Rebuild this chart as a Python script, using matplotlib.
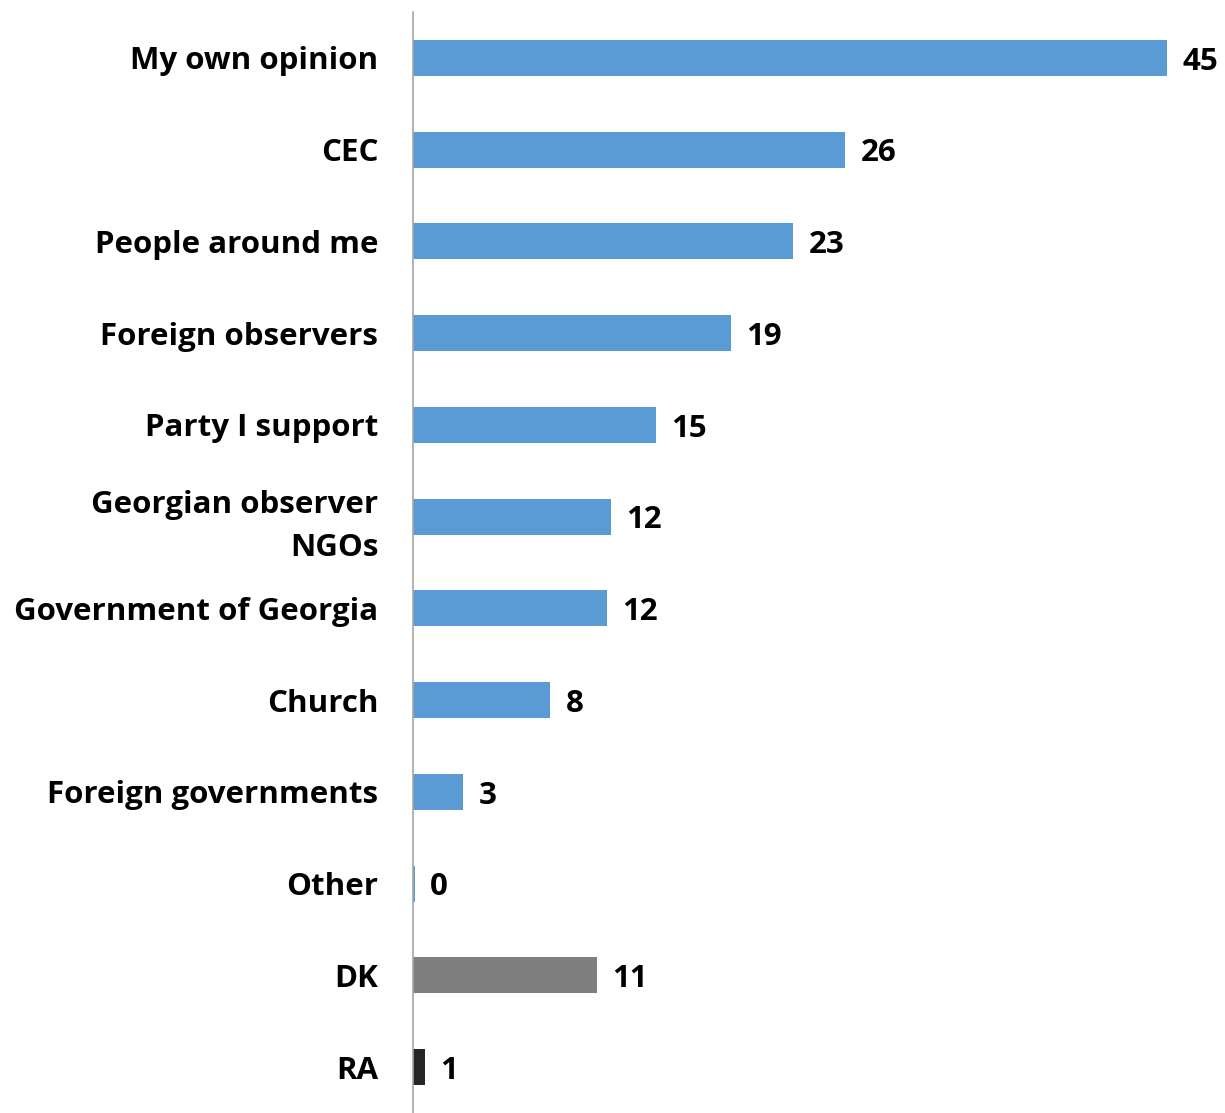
import matplotlib.pyplot as plt

categories = ["My own opinion", "CEC", "People around me", "Foreign observers",
              "Party I support", "Georgian observer\nNGOs", "Government of Georgia",
              "Church", "Foreign governments", "Other", "DK", "RA"]
values = [45, 25.8, 22.7, 19, 14.5, 11.8, 11.6, 8.2, 3, 0.1, 11, 0.7]
value_labels = ["45", "26", "23", "19", "15", "12", "12", "8", "3", "0", "11", "1"]
colors = ["#5B9BD5"] * 10 + ["#7F7F7F", "#262626"]

fig = plt.figure(figsize=(12.25, 11.13), dpi=100)
ax = fig.add_axes([413 / 1225, 0, 1 - 413 / 1225, 1 - 12 / 1113])

y = list(range(len(categories)))
ax.barh(y, values, height=0.39, color=colors)
ax.set_ylim(len(categories) - 0.5, -0.5)
ax.set_xlim(0, 48.45)

for yi, v, lab in zip(y, values, value_labels):
    ax.text(v + 0.9, yi + 0.04, lab, va="center", ha="left", fontsize=22.5,
            fontweight="bold", family="Open Sans", color="black")

ax.set_yticks(y)
ax.set_yticklabels(categories, fontsize=22.5, fontweight="bold", family="Open Sans",
                   linespacing=1.55)
ax.tick_params(axis="y", length=0, pad=25)
ax.set_xticks([])
for s in ["top", "right", "bottom"]:
    ax.spines[s].set_visible(False)
ax.spines["left"].set_color("#A6A6A6")
ax.spines["left"].set_linewidth(1.2)

fig.savefig("out.png", dpi=100)
